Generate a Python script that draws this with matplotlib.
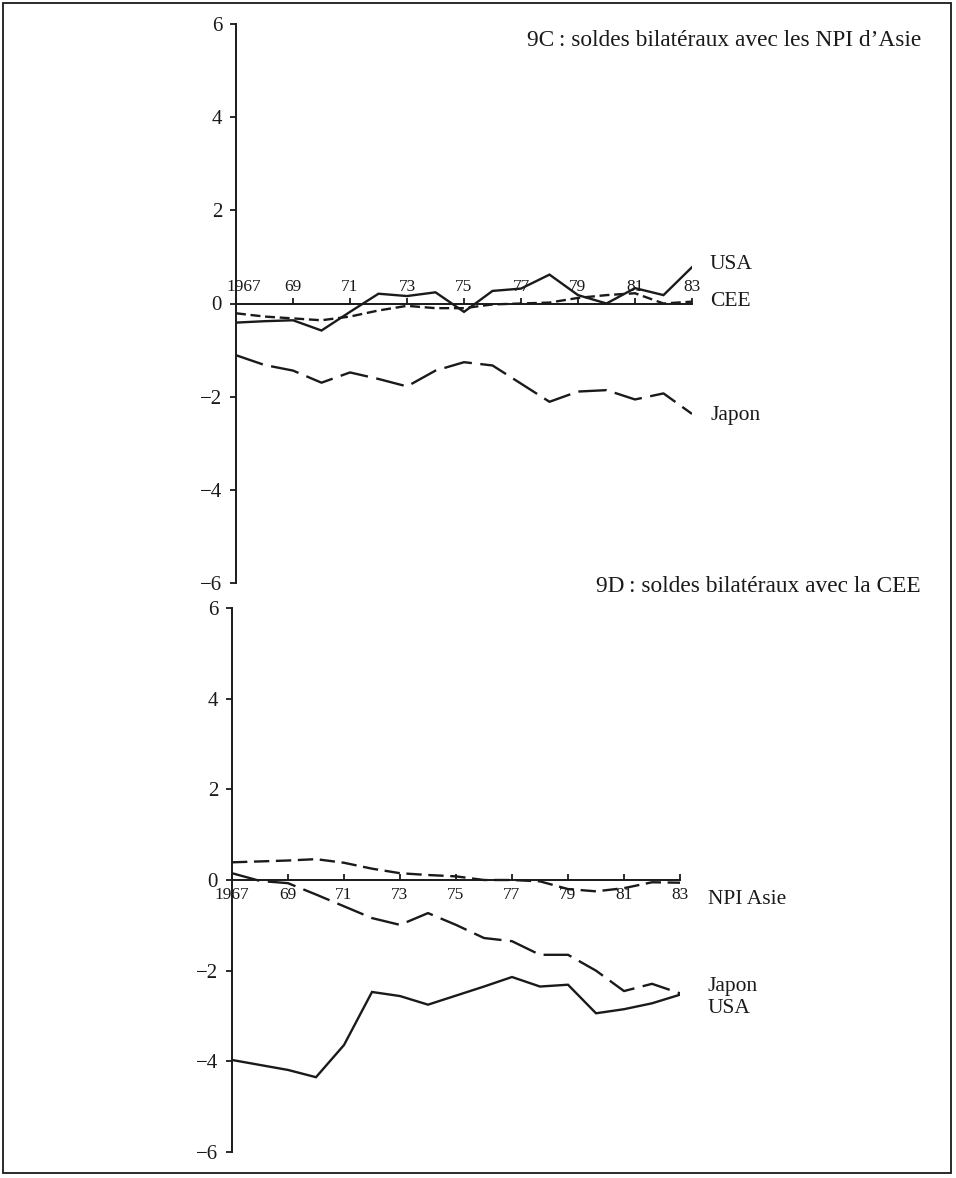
import matplotlib
matplotlib.use("Agg")
import matplotlib.pyplot as plt
from matplotlib.patches import Rectangle
from matplotlib.transforms import ScaledTranslation

plt.rcParams["font.family"] = ["Liberation Serif", "DejaVu Serif"]

years = list(range(1967, 1984))
tick_years = list(range(1967, 1984, 2))
tick_labels = ["1967", "69", "71", "73", "75", "77", "79", "81", "83"]
y_ticks = [-6, -4, -2, 0, 2, 4, 6]
y_tick_labels = ["\u22126", "\u22124", "\u22122", "0", "2", "4", "6"]

# 9C: bilateral balances with the Asian NICs
c_usa = [-0.41, -0.38, -0.36, -0.58, -0.18, 0.21, 0.16, 0.24, -0.18, 0.27,
         0.32, 0.62, 0.18, 0.00, 0.33, 0.18, 0.78]
c_cee = [-0.21, -0.28, -0.32, -0.36, -0.28, -0.15, -0.05, -0.10, -0.10, -0.02,
         0.00, 0.02, 0.12, 0.18, 0.22, 0.00, 0.04]
c_japon = [-1.11, -1.32, -1.44, -1.70, -1.48, -1.62, -1.78, -1.44, -1.26, -1.33,
           -1.72, -2.11, -1.89, -1.86, -2.06, -1.93, -2.37]

# 9D: bilateral balances with the EEC
d_npi = [0.39, 0.41, 0.43, 0.46, 0.38, 0.25, 0.15, 0.11, 0.08, 0.00,
         0.00, -0.03, -0.20, -0.25, -0.18, -0.05, -0.06]
d_japon = [0.15, -0.02, -0.07, -0.32, -0.58, -0.84, -0.99, -0.73, -0.99, -1.28,
           -1.35, -1.65, -1.65, -2.00, -2.45, -2.29, -2.50]
d_usa = [-3.97, -4.08, -4.19, -4.35, -3.64, -2.47, -2.56, -2.75, -2.55, -2.35,
         -2.14, -2.35, -2.31, -2.94, -2.85, -2.72, -2.53]

W, H = 956, 1178
fig = plt.figure(figsize=(W / 100, H / 100), dpi=100)


def px_axes(x0, x1, y_top, y_bot):
    return fig.add_axes([x0 / W, 1 - y_bot / H, (x1 - x0) / W, (y_bot - y_top) / H])


ax_c = px_axes(236, 692, 24, 583)
ax_d = px_axes(232, 680, 608, 1152)

INK = "#1a1a1a"
LW = 1.7


def style_axes(ax, labels_on_top):
    ax.set_xlim(1967, 1983)
    ax.set_ylim(-6, 6)
    ax.patch.set_alpha(0)
    for s in ax.spines.values():
        s.set_visible(False)
    ax.spines["left"].set_visible(True)
    ax.spines["left"].set_bounds(-6, 6)
    ax.spines["left"].set_linewidth(1.4)
    ax.spines["left"].set_color(INK)
    ax.set_yticks(y_ticks)
    ax.set_yticklabels(y_tick_labels)
    ax.tick_params(axis="y", direction="out", length=4, width=1.3,
                   color=INK, labelsize=15, pad=6, labelcolor=INK)
    side = "top" if labels_on_top else "bottom"
    sp = ax.spines[side]
    sp.set_visible(True)
    sp.set_position(("data", 0))
    sp.set_bounds(1967, 1983)
    sp.set_linewidth(1.4)
    sp.set_color(INK)
    if labels_on_top:
        ax.xaxis.tick_top()
        ax.tick_params(axis="x", direction="out", length=4, width=1.3,
                       color=INK, labelsize=12.5, pad=2, labelcolor=INK)
    else:
        ax.xaxis.tick_bottom()
        ax.tick_params(axis="x", direction="in", length=4, width=1.3,
                       color=INK, labelsize=12.5, pad=5, labelcolor=INK)
    ax.set_xticks(tick_years)
    ax.set_xticklabels(tick_labels)


style_axes(ax_c, True)
style_axes(ax_d, False)

# the first year label of the upper panel sits right of the vertical axis
first = ax_c.get_xticklabels()[0]
first.set_transform(first.get_transform() + ScaledTranslation(8 / 100, 0, fig.dpi_scale_trans))

short_dash = (4.2, 2.0)
long_dash = (12, 3.6)

ax_c.plot(years, c_usa, color=INK, lw=LW, solid_joinstyle="miter")
ax_c.plot(years, c_cee, color=INK, lw=LW, dashes=short_dash)
ax_c.plot(years, c_japon, color=INK, lw=LW, dashes=long_dash)

ax_d.plot(years, d_npi, color=INK, lw=LW, dashes=(6.5, 2.8))
ax_d.plot(years, d_japon, color=INK, lw=LW, dashes=long_dash)
ax_d.plot(years, d_usa, color=INK, lw=LW, solid_joinstyle="miter")

lab_kw = dict(textcoords="offset points", ha="left", va="center",
              fontsize=15.5, color=INK, annotation_clip=False)
ax_c.annotate("USA", xy=(1983, c_usa[-1]), xytext=(13, 2), **lab_kw)
ax_c.annotate("CEE", xy=(1983, c_cee[-1]), xytext=(13, 0), **lab_kw)
ax_c.annotate("Japon", xy=(1983, c_japon[-1]), xytext=(13, -1), **lab_kw)

ax_d.annotate("NPI Asie", xy=(1983, d_npi[-1]), xytext=(20, -12), **lab_kw)
ax_d.annotate("Japon", xy=(1983, d_japon[-1]), xytext=(20, 5), **lab_kw)
ax_d.annotate("USA", xy=(1983, d_usa[-1]), xytext=(20, -10), **lab_kw)

fig.text(921 / W, 1 - 40 / H, "9C\u2009: soldes bilatéraux avec les NPI d\u2019Asie",
         ha="right", va="center", fontsize=16.8, color=INK)
fig.text(921 / W, 1 - 587 / H, "9D\u2009: soldes bilatéraux avec la CEE",
         ha="right", va="center", fontsize=16.8, color=INK)

# page frame
fig.patches.append(Rectangle((3 / W, 5 / H), 948 / W, 1170 / H,
                             transform=fig.transFigure, fill=False,
                             edgecolor=INK, linewidth=1.3))

fig.savefig("out.png", dpi=100, facecolor="white")
